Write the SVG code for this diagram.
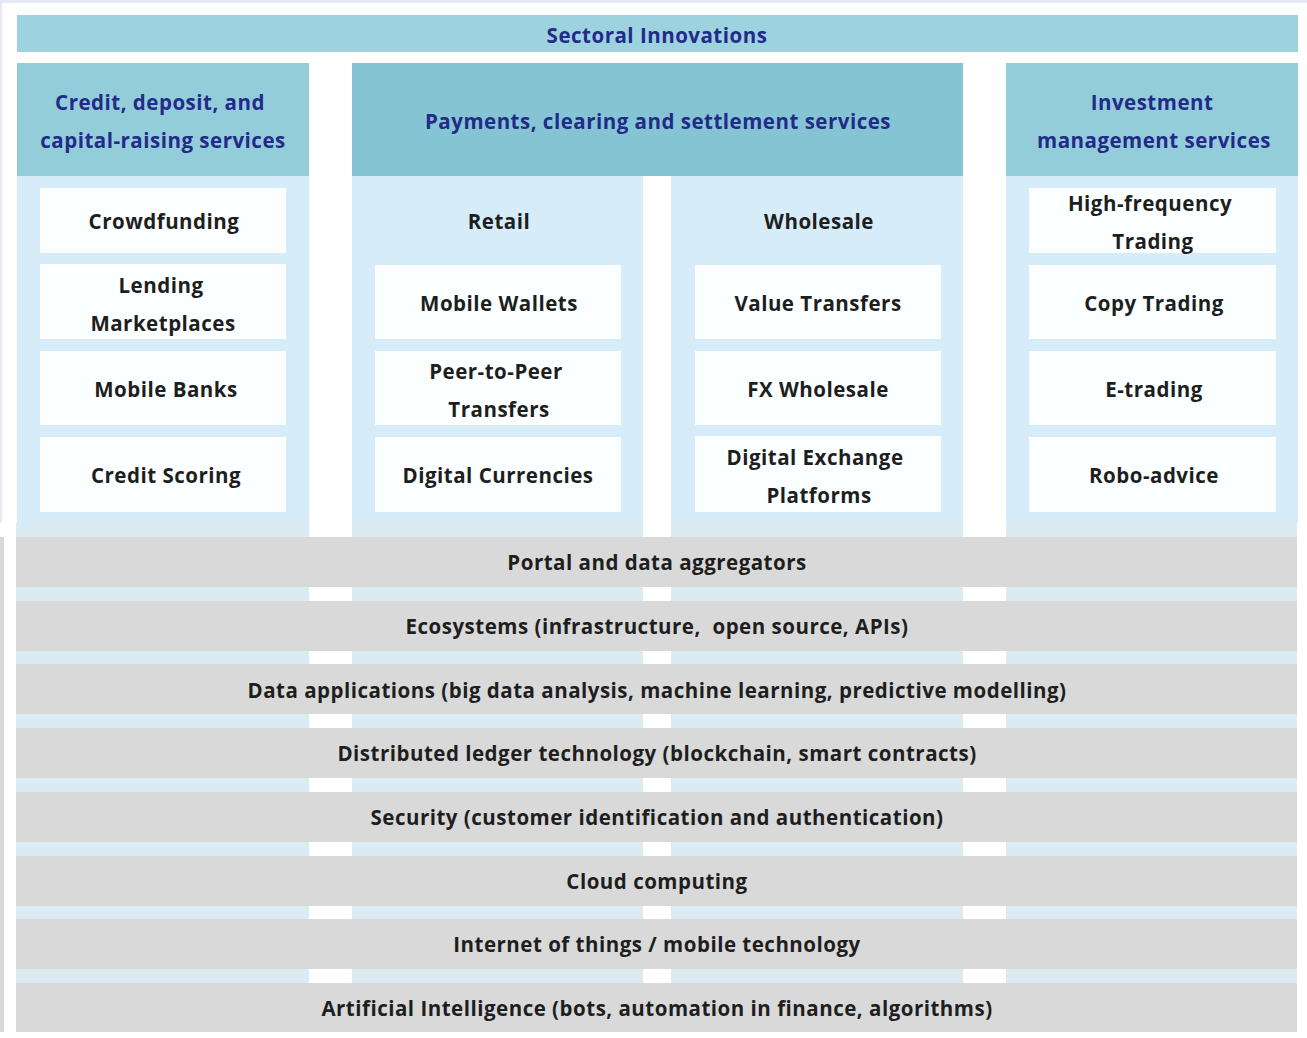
<svg xmlns="http://www.w3.org/2000/svg" width="1307" height="1038" viewBox="0 0 1307 1038">
  <style>
    text { font-family: "Open Sans", "Noto Sans", "Liberation Sans", sans-serif; font-weight: 700; font-size: 20.5px; letter-spacing: 0.5px; text-anchor: middle; }
    .hd { fill: #232a8a; }
    .tx { fill: #1e1e1e; }
    .banner { fill: #9cd3df; }
    .head { fill: #93cdd9; }
    .head2 { fill: #85c5d3; }
    .body { fill: #d6ecf9; }
    .box { fill: #fbffff; }
    .band { fill: #daecf2; }
    .strip { fill: #d9d9d9; }
    .gap { fill: #ffffff; }
  </style>

  <rect x="0" y="0" width="1307" height="1038" fill="#ffffff"/>
  <!-- frame edges -->
  <rect x="0" y="0" width="1307" height="3" fill="#e6e8f6"/>
  <rect x="0" y="0" width="2" height="523" fill="#e6e8f6"/>
  <rect x="0" y="537" width="4" height="495" fill="#d9d9d9"/>

  <!-- top banner -->
  <g id="sectoral-innovations">
    <rect class="banner" x="17" y="15" width="1281" height="37"/>
    <text class="hd" x="657" y="43">Sectoral Innovations</text>
  </g>

  <!-- credit column -->
  <g id="credit-column">
    <rect class="head" x="17" y="63" width="292" height="113"/>
    <rect class="body" x="17" y="176" width="292" height="347"/>
    <text class="hd" x="160" y="110">Credit, deposit, and</text>
    <text class="hd" x="163" y="148">capital-raising services</text>
  </g>
  <g id="crowdfunding">
    <rect class="box" x="40" y="188" width="246" height="65"/>
    <text class="tx" x="164" y="229">Crowdfunding</text>
  </g>
  <g id="lending-marketplaces">
    <rect class="box" x="40" y="264" width="246" height="75"/>
    <text class="tx" x="161" y="293">Lending</text>
    <text class="tx" x="163" y="331">Marketplaces</text>
  </g>
  <g id="mobile-banks">
    <rect class="box" x="40" y="351" width="246" height="74"/>
    <text class="tx" x="166" y="397">Mobile Banks</text>
  </g>
  <g id="credit-scoring">
    <rect class="box" x="40" y="437" width="246" height="75"/>
    <text class="tx" x="166" y="483">Credit Scoring</text>
  </g>

  <!-- payments column -->
  <g id="payments-column">
    <rect class="head2" x="352" y="63" width="611" height="113"/>
    <text class="hd" x="658" y="129">Payments, clearing and settlement services</text>
  </g>
  <g id="retail-column">
    <rect class="body" x="352" y="176" width="291" height="347"/>
    <text class="tx" x="499" y="229">Retail</text>
  </g>
  <g id="mobile-wallets">
    <rect class="box" x="375" y="265" width="246" height="74"/>
    <text class="tx" x="499" y="311">Mobile Wallets</text>
  </g>
  <g id="peer-to-peer">
    <rect class="box" x="375" y="351" width="246" height="74"/>
    <text class="tx" x="496" y="379">Peer-to-Peer</text>
    <text class="tx" x="499" y="417">Transfers</text>
  </g>
  <g id="digital-currencies">
    <rect class="box" x="375" y="437" width="246" height="75"/>
    <text class="tx" x="498" y="483">Digital Currencies</text>
  </g>
  <g id="wholesale-column">
    <rect class="body" x="671" y="176" width="292" height="347"/>
    <text class="tx" x="819" y="229">Wholesale</text>
  </g>
  <g id="value-transfers">
    <rect class="box" x="695" y="265" width="246" height="74"/>
    <text class="tx" x="818" y="311">Value Transfers</text>
  </g>
  <g id="fx-wholesale">
    <rect class="box" x="695" y="351" width="246" height="74"/>
    <text class="tx" x="818" y="397">FX Wholesale</text>
  </g>
  <g id="digital-exchange">
    <rect class="box" x="695" y="436" width="246" height="76"/>
    <text class="tx" x="815" y="465">Digital Exchange</text>
    <text class="tx" x="819" y="503">Platforms</text>
  </g>

  <!-- investment column -->
  <g id="investment-column">
    <rect class="head" x="1006" y="63" width="292" height="113"/>
    <rect class="body" x="1006" y="176" width="292" height="347"/>
    <text class="hd" x="1152" y="110">Investment</text>
    <text class="hd" x="1154" y="148">management services</text>
  </g>
  <g id="high-frequency-trading">
    <rect class="box" x="1029" y="188" width="247" height="65"/>
    <text class="tx" x="1150" y="211">High-frequency</text>
    <text class="tx" x="1153" y="249">Trading</text>
  </g>
  <g id="copy-trading">
    <rect class="box" x="1029" y="265" width="247" height="74"/>
    <text class="tx" x="1154" y="311">Copy Trading</text>
  </g>
  <g id="e-trading">
    <rect class="box" x="1029" y="351" width="247" height="74"/>
    <text class="tx" x="1154" y="397">E-trading</text>
  </g>
  <g id="robo-advice">
    <rect class="box" x="1029" y="437" width="247" height="75"/>
    <text class="tx" x="1154" y="483">Robo-advice</text>
  </g>

  <!-- technology layers: cyan bands with column gaps, grey strips on top -->
  <g id="layer-bands">
    <rect class="band" x="16" y="523" width="1281" height="509"/>
    <rect class="gap" x="309" y="523" width="43" height="509"/>
    <rect class="gap" x="643" y="523" width="28" height="509"/>
    <rect class="gap" x="963" y="523" width="43" height="509"/>
  </g>
  <g id="portal-aggregators">
    <rect class="strip" x="16" y="537" width="1281" height="50"/>
    <text class="tx" x="657" y="570">Portal and data aggregators</text>
  </g>
  <g id="ecosystems">
    <rect class="strip" x="16" y="601" width="1281" height="50"/>
    <text class="tx" x="657" y="634" xml:space="preserve">Ecosystems (infrastructure,  open source, APIs)</text>
  </g>
  <g id="data-applications">
    <rect class="strip" x="16" y="664" width="1281" height="50"/>
    <text class="tx" x="657" y="698">Data applications (big data analysis, machine learning, predictive modelling)</text>
  </g>
  <g id="distributed-ledger">
    <rect class="strip" x="16" y="728" width="1281" height="50"/>
    <text class="tx" x="657" y="761">Distributed ledger technology (blockchain, smart contracts)</text>
  </g>
  <g id="security">
    <rect class="strip" x="16" y="792" width="1281" height="50"/>
    <text class="tx" x="657" y="825">Security (customer identification and authentication)</text>
  </g>
  <g id="cloud-computing">
    <rect class="strip" x="16" y="856" width="1281" height="50"/>
    <text class="tx" x="657" y="889">Cloud computing</text>
  </g>
  <g id="iot-mobile">
    <rect class="strip" x="16" y="919" width="1281" height="50"/>
    <text class="tx" x="657" y="952">Internet of things / mobile technology</text>
  </g>
  <g id="artificial-intelligence">
    <rect class="strip" x="16" y="983" width="1281" height="49"/>
    <text class="tx" x="657" y="1016">Artificial Intelligence (bots, automation in finance, algorithms)</text>
  </g>

  <g id="connectors"/>
</svg>
